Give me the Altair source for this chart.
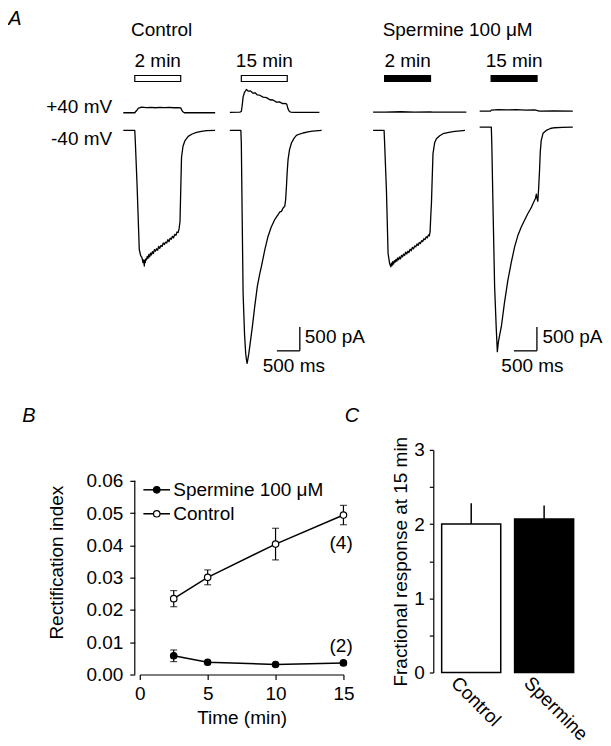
import altair as alt
import pandas as pd

FONT = "Liberation Sans"

# ============================ DATA ============================
# Panel A: whole-cell currents.
# t = ms from the start of each sweep, i = current in pA
sweep_keys = ["ctrl2", "ctrl15", "sp2", "sp15"]
sweep_group = ["Control", "Control", "Spermine", "Spermine"]
sweep_titles = ["2 min", "15 min", "2 min", "15 min"]
step_on_ms = 250
step_off_ms = 1250

# -40 mV sweeps
ctrl2_m40_t = [0, 250, 262, 300, 348, 380, 405, 430, 445, 457, 466, 478, 490, 505, 522, 538, 556, 575, 592, 612,
               634, 655, 678, 700, 724, 748, 770, 795, 820, 846, 870, 895, 920, 946, 970, 995, 1020, 1046, 1070,
               1095, 1120, 1146, 1170, 1195, 1215, 1235, 1252, 1268, 1300, 1340, 1413, 1500, 1596, 1700, 1813,
               2000]
ctrl2_m40_i = [0, 0, -230, -1140, -2485, -2620, -2650, -2760, -2700, -2830, -2710, -2760, -2680, -2700, -2630,
               -2670, -2590, -2640, -2560, -2600, -2530, -2570, -2490, -2520, -2470, -2500, -2420, -2460, -2400,
               -2420, -2350, -2380, -2330, -2350, -2280, -2320, -2250, -2270, -2210, -2240, -2170, -2190, -2120,
               -2130, -2050, -1900, -1200, -560, -330, -220, -125, -75, -42, -20, -6, 0]

ctrl15_m40_t = [0, 240, 250, 270, 289, 320, 345, 364, 376, 392, 410, 435, 490, 543, 600, 650, 689, 760, 833, 900,
                978, 1020, 1050, 1090, 1124, 1160, 1196, 1215, 1233, 1250, 1268, 1300, 1342, 1400, 1450, 1520,
                1594, 1700, 1800, 2000]
ctrl15_m40_i = [0, 0, -250, -1900, -3400, -4250, -4650, -4800, -4860, -4780, -4680, -4500, -4100, -3666, -3250,
                -3000, -2833, -2500, -2208, -2020, -1860, -1800, -1760, -1700, -1690, -1620, -1583, -1450, -1166,
                -850, -610, -400, -262, -160, -104, -75, -54, -30, -15, 0]

sp2_m40_t = [0, 239, 250, 290, 326, 360, 385, 398, 412, 428, 445, 462, 480, 498, 516, 535, 555, 575, 596, 618,
             640, 662, 685, 708, 732, 756, 780, 805, 830, 855, 880, 905, 930, 956, 980, 1005, 1030, 1056, 1080,
             1105, 1130, 1156, 1180, 1205, 1225, 1240, 1255, 1270, 1290, 1304, 1340, 1378, 1450, 1522, 1650,
             1776, 1900, 2000]
sp2_m40_i = [0, 0, -250, -1250, -2569, -2780, -2848, -2770, -2820, -2740, -2790, -2720, -2750, -2690, -2730,
             -2660, -2700, -2640, -2680, -2610, -2640, -2580, -2610, -2540, -2580, -2520, -2550, -2480, -2510,
             -2440, -2470, -2410, -2430, -2370, -2400, -2340, -2360, -2300, -2320, -2260, -2280, -2220, -2240,
             -2180, -2200, -2119, -1800, -1527, -900, -485, -260, -173, -110, -69, -40, -21, -8, 0]

sp15_m40_t = [0, 254, 265, 295, 326, 360, 385, 410, 440, 472, 540, 615, 690, 761, 830, 906, 980, 1050, 1100, 1130,
              1160, 1196, 1215, 1235, 1255, 1267, 1285, 1304, 1320, 1341, 1380, 1450, 1540, 1630, 1800, 2028]
sp15_m40_i = [70, 70, -300, -1800, -3263, -4100, -4618, -4400, -4250, -4097, -3600, -3125, -2750, -2431, -2200,
              -2014, -1870, -1735, -1650, -1600, -1530, -1458, -1420, -1330, -1440, -1479, -1200, -833, -450,
              -208, -60, 0, 40, 56, 65, 70]

# +40 mV sweeps
ctrl2_p40_t = [0, 250, 290, 330, 400, 500, 600, 700, 800, 900, 1000, 1100, 1200, 1250, 1290, 1330, 1500, 2000]
ctrl2_p40_i = [-6, -6, 40, 90, 110, 100, 106, 98, 104, 100, 106, 98, 102, 96, 20, -6, -6, -6]

ctrl15_p40_t = [0, 217, 250, 270, 289, 320, 363, 400, 450, 500, 550, 600, 650, 724, 800, 870, 940, 1015, 1080,
                1150, 1200, 1240, 1265, 1290, 1320, 1400, 1950]
ctrl15_p40_i = [0, 8, 20, 150, 325, 420, 479, 445, 450, 405, 410, 365, 360, 320, 310, 265, 260, 215, 220, 185,
                190, 173, 80, 30, 8, 0, 0]

sp2_p40_t = [0, 250, 600, 900, 1250, 1300, 2030]
sp2_p40_i = [6, 6, 14, 8, 10, 6, 6]

sp15_p40_t = [0, 230, 260, 400, 600, 800, 1000, 1200, 1260, 1300, 1600, 2028]
sp15_p40_i = [27, 27, 50, 60, 52, 58, 50, 55, 40, 27, 30, 27]

# Panel B: rectification index vs time
time_min = [2.5, 5, 10, 15]
control_ri = [0.0235, 0.0301, 0.0404, 0.0494]
control_sem = [0.0025, 0.0023, 0.0049, 0.0030]
spermine_ri = [0.0058, 0.0038, 0.0031, 0.0036]
spermine_sem = [0.0018, 0.0003, 0.0002, 0.0003]
n_labels = ["(4)", "(2)"]

# Panel C: fractional response at 15 min
conditions = ["Control", "Spermine"]
frac_resp = [2.00, 2.07]
frac_sem = [0.28, 0.18]

# ============================ LAYOUT ============================
MS_PER_PX = 500 / 23
PA_PER_PX = 500 / 24
A_W, A_H = 463, 380
A_T0 = 2559
A_ZERO_PX = 122
sweep_start_ms = [2200, 4520, 7640, 9960]
plus40_shift_pA = 375
scalebar_end_ms = [6044, 11207]
scalebar_base_pA = -4600
B_W, B_H = 204, 225
C_W, C_H = 149, 223

fill_scale = alt.Scale(domain=["Control", "Spermine"], range=["white", "black"])
one = pd.DataFrame({"k": [0]})


def label(txt, x, y, align="left", size=19, style="normal"):
    return alt.Chart(one).mark_text(
        text=txt, align=align, baseline="middle", fontSize=size, fontStyle=style,
        font=FONT, color="black"
    ).encode(x=alt.value(x), y=alt.value(y))


# ---------------- Panel A ----------------
m40 = {"ctrl2": (ctrl2_m40_t, ctrl2_m40_i), "ctrl15": (ctrl15_m40_t, ctrl15_m40_i),
       "sp2": (sp2_m40_t, sp2_m40_i), "sp15": (sp15_m40_t, sp15_m40_i)}
p40 = {"ctrl2": (ctrl2_p40_t, ctrl2_p40_i), "ctrl15": (ctrl15_p40_t, ctrl15_p40_i),
       "sp2": (sp2_p40_t, sp2_p40_i), "sp15": (sp15_p40_t, sp15_p40_i)}
rows = []
for k, off in zip(sweep_keys, sweep_start_ms):
    for t, i in zip(*m40[k]):
        rows.append({"trace": k + "_m40", "t": t + off, "I": i})
    for t, i in zip(*p40[k]):
        rows.append({"trace": k + "_p40", "t": t + off, "I": i + plus40_shift_pA})
df_tr = pd.DataFrame(rows)

df_step = pd.DataFrame({
    "t0": [o + step_on_ms for o in sweep_start_ms],
    "t1": [o + step_off_ms for o in sweep_start_ms],
    "tm": [o + (step_on_ms + step_off_ms) / 2 for o in sweep_start_ms],
    "label": sweep_titles,
    "group": sweep_group,
})
df_sb = pd.DataFrame({
    "t_end": scalebar_end_ms,
    "t_start": [t - 500 for t in scalebar_end_ms],
    "I0": [scalebar_base_pA] * 2,
    "I1": [scalebar_base_pA + 500] * 2,
})

xsA = alt.Scale(domain=[A_T0, A_T0 + A_W * MS_PER_PX], nice=False, zero=False)
ysA = alt.Scale(domain=[-(A_H - A_ZERO_PX) * PA_PER_PX, A_ZERO_PX * PA_PER_PX], nice=False, zero=False)

traces = alt.Chart(df_tr).mark_line(color="black", strokeWidth=1.3, strokeJoin="round").encode(
    x=alt.X("t:Q", scale=xsA, axis=None),
    y=alt.Y("I:Q", scale=ysA, axis=None),
    detail="trace:N",
)
step_bars = alt.Chart(df_step).mark_rect(stroke="black", strokeWidth=1.2).encode(
    x=alt.X("t0:Q", scale=xsA, axis=None), x2="t1:Q",
    y=alt.value(67), y2=alt.value(73),
    fill=alt.Fill("group:N", scale=fill_scale, legend=None),
)
step_text = alt.Chart(df_step).mark_text(font=FONT, fontSize=19, align="center", baseline="middle",
                                         color="black").encode(
    x=alt.X("tm:Q", scale=xsA, axis=None), y=alt.value(52), text="label:N")
sb_v = alt.Chart(df_sb).mark_rule(color="black", strokeWidth=1.3).encode(
    x=alt.X("t_end:Q", scale=xsA, axis=None), y=alt.Y("I0:Q", scale=ysA, axis=None), y2="I1:Q")
sb_h = alt.Chart(df_sb).mark_rule(color="black", strokeWidth=1.3).encode(
    x=alt.X("t_start:Q", scale=xsA, axis=None), x2="t_end:Q", y=alt.Y("I0:Q", scale=ysA, axis=None))

panelA = alt.layer(
    traces, step_bars, step_text, sb_v, sb_h,
    label("A", -131.7, 10, size=20, style="italic"),
    label("Control", -8.7, 21),
    label("Spermine 100 μM", 243.3, 21),
    label("+40 mV", -27.7, 98.5, align="right"),
    label("-40 mV", -27.7, 131, align="right"),
    label("500 pA", 165.3, 329),
    label("500 pA", 403.3, 329),
    label("500 ms", 154.3, 358, align="center"),
    label("500 ms", 393.3, 358, align="center"),
).properties(width=A_W, height=A_H)

# ---------------- Panel B ----------------
dfB = pd.DataFrame({
    "series": ["Control"] * 4 + ["Spermine"] * 4,
    "t": time_min + time_min,
    "ri": control_ri + spermine_ri,
    "sem": control_sem + spermine_sem,
})
dfB["lo"] = dfB["ri"] - dfB["sem"]
dfB["hi"] = dfB["ri"] + dfB["sem"]

xsB = alt.Scale(domain=[0, 15], nice=False, zero=False)
ysB = alt.Scale(domain=[0, 0.06 * B_H / 194], nice=False, zero=False)
axis_xB = alt.Axis(values=[0, 5, 10, 15], title="Time (min)", tickSize=5, labelPadding=5, titlePadding=5,
                   labelFlush=False, grid=False)
axis_yB = alt.Axis(values=[0, 0.01, 0.02, 0.03, 0.04, 0.05, 0.06], format=".2f", title="Rectification index",
                   domain=False, offset=5, tickSize=5, labelPadding=7, titlePadding=19, grid=False)
xB = alt.X("t:Q", scale=xsB, axis=axis_xB)


def yB(f):
    return alt.Y(f, scale=ysB, axis=axis_yB)


lineB = alt.Chart(dfB).mark_line(color="black", strokeWidth=1.5).encode(x=xB, y=yB("ri:Q"), detail="series:N")
errB = alt.Chart(dfB).transform_filter("datum.sem >= 0.001").mark_rule(color="black", strokeWidth=1.2).encode(
    x=xB, y=yB("lo:Q"), y2="hi:Q")
capLo = alt.Chart(dfB).transform_filter("datum.sem >= 0.001").mark_tick(
    orient="horizontal", color="black", size=7, thickness=1.2).encode(x=xB, y=yB("lo:Q"))
capHi = alt.Chart(dfB).transform_filter("datum.sem >= 0.001").mark_tick(
    orient="horizontal", color="black", size=7, thickness=1.2).encode(x=xB, y=yB("hi:Q"))
ptsB = alt.Chart(dfB).mark_point(shape="circle", size=42, stroke="black", strokeWidth=1.2, opacity=1,
                                 fillOpacity=1).encode(
    x=xB, y=yB("ri:Q"), fill=alt.Fill("series:N", scale=fill_scale, legend=None))
axis_rule = alt.Chart(pd.DataFrame({"y0": [0.0], "y1": [0.06]})).mark_rule(color="black", strokeWidth=1.2).encode(
    x=alt.value(-5), y=yB("y0:Q"), y2="y1:Q")


def legend_row(txt, fill, y):
    seg = alt.Chart(one).mark_rule(color="black", strokeWidth=1.5).encode(
        x=alt.value(3.6), x2=alt.value(30.3), y=alt.value(y))
    dot = alt.Chart(one).mark_point(shape="circle", size=42, stroke="black", strokeWidth=1.2, fill=fill,
                                    opacity=1, fillOpacity=1).encode(x=alt.value(17), y=alt.value(y))
    return [seg, dot, label(txt, 33.6, y)]


panelB = alt.layer(
    axis_rule, lineB, errB, capLo, capHi, ptsB,
    *legend_row("Spermine 100 μM", "black", 40),
    *legend_row("Control", "white", 64),
    label(n_labels[0], 213.3, 93, align="right"),
    label(n_labels[1], 213.3, 196, align="right"),
    label("B", -117.7, -34, size=20, style="italic"),
    label("C", 205.3, -34, size=20, style="italic"),
).properties(width=B_W, height=B_H)

# ---------------- Panel C ----------------
dfC = pd.DataFrame({"cond": conditions, "frac": frac_resp,
                    "top": [v + e for v, e in zip(frac_resp, frac_sem)]})
xC = alt.X("cond:N", sort=conditions,
           scale=alt.Scale(domain=conditions, paddingInner=0.19, paddingOuter=0.115),
           axis=alt.Axis(title=None, labelAngle=45, labelAlign="left", labelBaseline="middle", ticks=False,
                         tickSize=0, domain=False, labelPadding=7, labelOffset=-17))
ysC = alt.Scale(domain=[0, 3], nice=False, zero=True)
axis_yC = alt.Axis(values=[0, 0.5, 1, 1.5, 2, 2.5, 3],
                   labelExpr="datum.value % 1 === 0 ? format(datum.value, 'd') : ''",
                   title="Fractional response at 15 min", tickSize=4, labelPadding=5, titlePadding=3,
                   grid=False)
barsC = alt.Chart(dfC).mark_bar(stroke="black", strokeWidth=1.5).encode(
    x=xC, y=alt.Y("frac:Q", scale=ysC, axis=axis_yC),
    fill=alt.Fill("cond:N", scale=fill_scale, legend=None))
errC = alt.Chart(dfC).mark_rule(color="black", strokeWidth=1.5).encode(
    x=xC, y=alt.Y("frac:Q", scale=ysC, axis=axis_yC), y2="top:Q")
panelC = alt.layer(barsC, errC).properties(width=C_W, height=C_H)

# ---------------- Assemble ----------------
chart = alt.vconcat(
    panelA,
    alt.hconcat(panelB, panelC, spacing=32),
    spacing=18,
).properties(padding=0).configure(font=FONT).configure_view(stroke=None).configure_axis(
    labelFont=FONT, titleFont=FONT, labelFontSize=19, titleFontSize=19, titleFontWeight="normal",
    labelColor="black", titleColor="black", domainColor="black", tickColor="black",
    domainWidth=1.2, tickWidth=1.2, grid=False,
)

chart.save("out.html", embed_options={"renderer": "svg", "actions": False})
